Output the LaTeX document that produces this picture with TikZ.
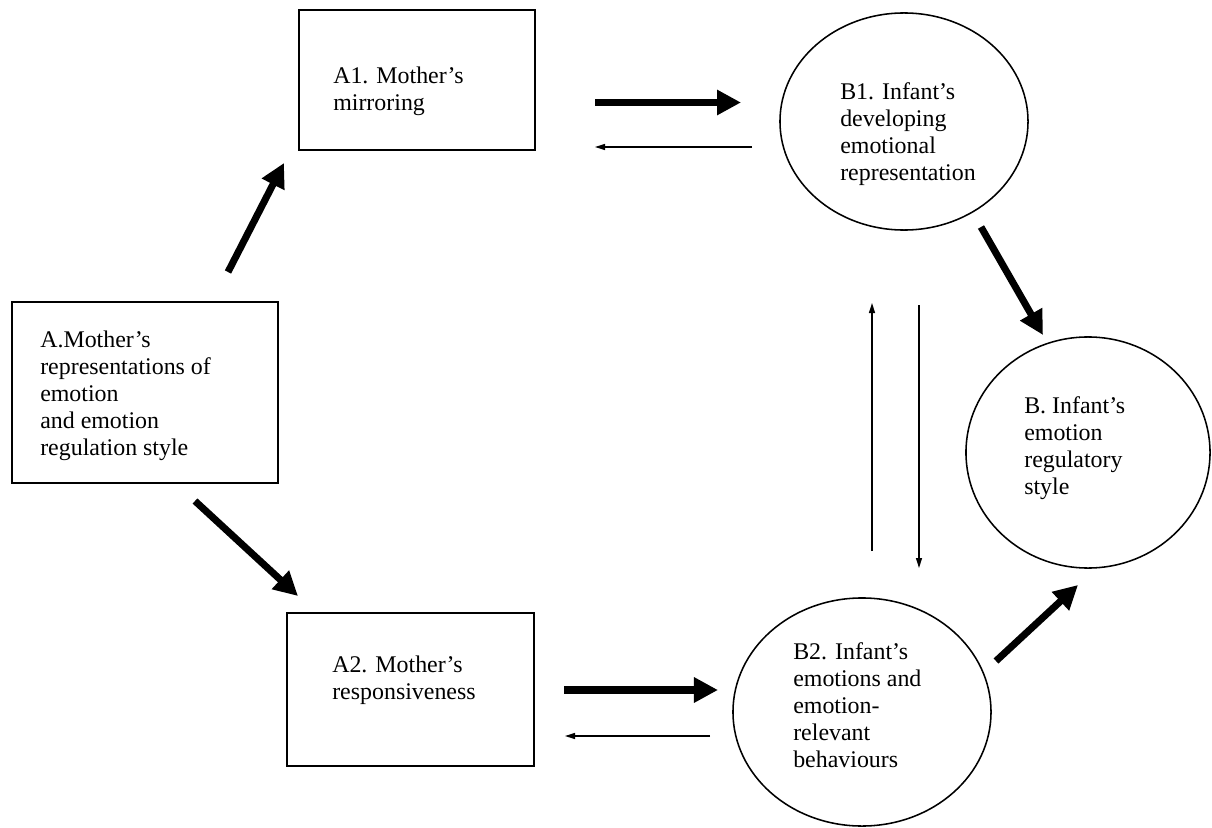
\documentclass[tikz,border=0pt]{standalone}
\usepackage{fontspec}
\setmainfont{Liberation Serif}
\usetikzlibrary{arrows.meta,shapes.geometric}
\begin{document}
\begin{tikzpicture}[x=0.025cm,y=-0.025cm,
    box/.style={draw,line width=1.4pt,rectangle,inner sep=0pt,outer sep=0pt},
    oval/.style={draw,line width=1.1pt,ellipse,inner sep=0pt,outer sep=0pt},
    txt/.style={anchor=north west,align=left,inner sep=0pt,font=\fontsize{17}{19.2}\selectfont},
    big/.style={line width=5pt,-{Triangle[length=0.6cm,width=0.6cm]}},
    thin/.style={line width=1pt,-{Triangle[length=0.25cm,width=0.15cm]}}]
  \useasboundingbox (0,0) rectangle (1212,828);
  % mother side
  \node[box,minimum width=6.65cm,minimum height=4.525cm] (A) at (145,392.5) {};
  \node[box,minimum width=5.9cm,minimum height=3.5cm] (A1) at (417,80) {};
  \node[box,minimum width=6.175cm,minimum height=3.825cm] (A2) at (410.5,689.5) {};
  % infant side
  \node[oval,minimum width=6.2cm,minimum height=5.425cm] (B1) at (904,121.5) {};
  \node[oval,minimum width=6.1cm,minimum height=5.775cm] (B) at (1088,452.5) {};
  \node[oval,minimum width=6.45cm,minimum height=5.7cm] (B2) at (862,712) {};
  % labels
  \node[txt] (Atxt) at (40,331) {A.Mother’s\\representations of\\emotion\\and emotion\\regulation style};
  \node[txt] (A1txt) at (333,67) {A1. Mother’s\\mirroring};
  \node[txt] (A2txt) at (332,656) {A2. Mother’s\\responsiveness};
  \node[txt] (B1txt) at (840,82) {B1. Infant’s\\developing\\emotional\\representation};
  \node[txt] (Btxt) at (1024,396) {B. Infant’s\\emotion\\regulatory\\style};
  \node[txt] (B2txt) at (793,642) {B2. Infant’s\\emotions and\\emotion-\\relevant\\behaviours};
  % arrow ends
  \coordinate (aup) at (228,272);     \coordinate (a1in) at (284,163);
  \coordinate (adown) at (195,501);   \coordinate (a2in) at (298,596);
  \coordinate (a1out) at (595,102.5); \coordinate (b1in) at (741,102.5);
  \coordinate (b1back) at (752,147);  \coordinate (a1back) at (595,147);
  \coordinate (a2out) at (564,690);   \coordinate (b2in) at (718,690);
  \coordinate (b2back) at (710,736);  \coordinate (a2back) at (565,736);
  \coordinate (b1out) at (981,227);   \coordinate (bfromb1) at (1043,335);
  \coordinate (b2out) at (996,661);   \coordinate (bfromb2) at (1078,585);
  \coordinate (b2up) at (872,551);    \coordinate (b1low) at (872,303);
  \coordinate (b1dn) at (919,305);    \coordinate (b2top) at (919,568);
  % connectors
  \draw[big] (aup) -- (a1in);
  \draw[big] (adown) -- (a2in);
  \draw[big] (a1out) -- (b1in);
  \draw[thin] (b1back) -- (a1back);
  \draw[big] (a2out) -- (b2in);
  \draw[thin] (b2back) -- (a2back);
  \draw[big] (b1out) -- (bfromb1);
  \draw[big] (b2out) -- (bfromb2);
  \draw[thin] (b2up) -- (b1low);
  \draw[thin] (b1dn) -- (b2top);
\end{tikzpicture}
\end{document}
